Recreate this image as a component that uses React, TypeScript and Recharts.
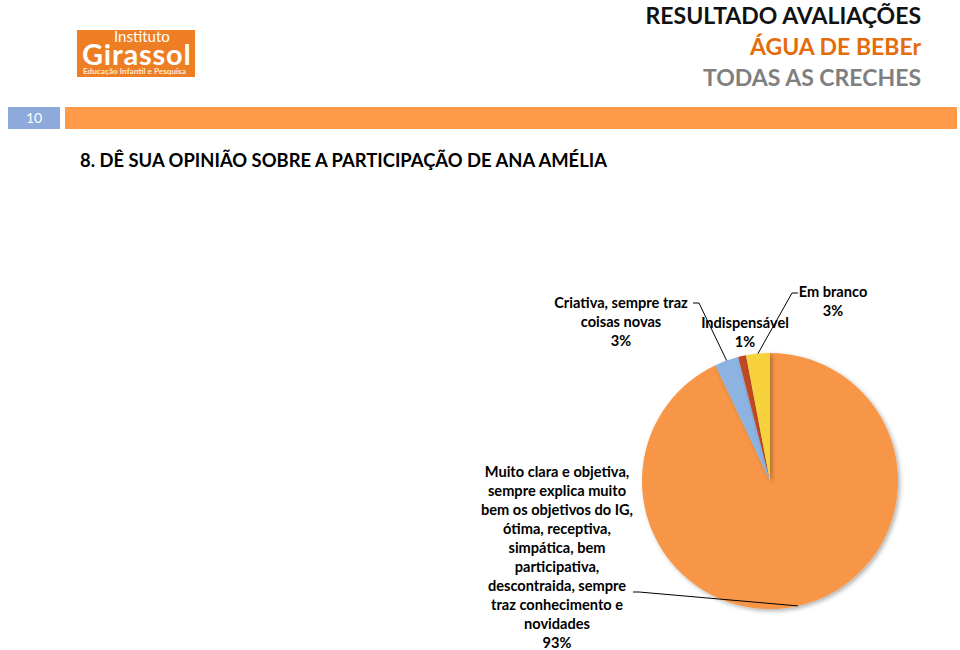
import React from "react";
import { Cell, Pie, PieChart } from "recharts";

const categories = [
  "Muito clara e objetiva, sempre explica muito bem os objetivos do IG, ótima, receptiva, simpática, bem participativa, descontraida, sempre traz conhecimento e novidades",
  "Criativa, sempre traz coisas novas",
  "Indispensável",
  "Em branco",
];
const percentages = [93, 3, 1, 3];
const labelLines = [
  [
    "Muito clara e objetiva,",
    "sempre explica muito",
    "bem os objetivos do IG,",
    "ótima, receptiva,",
    "simpática, bem",
    "participativa,",
    "descontraida, sempre",
    "traz conhecimento e",
    "novidades",
  ],
  ["Criativa, sempre traz", "coisas novas"],
  ["Indispensável"],
  ["Em branco"],
];
const sliceColors = ["#F79646", "#8DB3E2", "#BF4A20", "#F8D23C"];

const data = categories.map((name, i) => ({ name, value: percentages[i] }));

// where each label block sits, and the elbow of its leader line
const labelLayout = [
  { x: 557, y: 471, elbow: [[639, 592], [633, 592]] },
  { x: 621, y: 302, elbow: [[699, 303], [693, 303]] },
  { x: 745, y: 322, elbow: null },
  { x: 833, y: 291, elbow: [[792, 293], [798, 293]] },
];

const FONT = "Lato, 'Open Sans', sans-serif";

function renderLabel(props: any) {
  const { cx, cy, midAngle, outerRadius, index } = props;
  const lay = labelLayout[index];
  const rad = (Math.PI / 180) * midAngle;
  const ox = cx + outerRadius * Math.cos(rad);
  const oy = cy - outerRadius * Math.sin(rad);
  const lines = [...labelLines[index], `${percentages[index]}%`];
  return (
    <g key={`lbl-${index}`}>
      {lay.elbow && (
        <polyline
          points={[[ox, oy], ...lay.elbow].map((p) => p.join(",")).join(" ")}
          fill="none"
          stroke="#000"
          strokeWidth={1}
        />
      )}
      {lines.map((t, i) => (
        <text
          key={i}
          x={lay.x}
          y={lay.y + i * 19.1}
          textAnchor="middle"
          dominantBaseline="central"
          fontFamily={FONT}
          fontWeight={700}
          fontSize={14.6}
          fill="#000"
        >
          {t}
        </text>
      ))}
    </g>
  );
}

export default function App() {
  return (
    <div
      style={{
        position: "absolute",
        left: 0,
        top: 0,
        width: 960,
        height: 650,
        background: "#fff",
        overflow: "hidden",
        fontFamily: FONT,
      }}
    >
      {/* logo */}
      <div
        style={{
          position: "absolute",
          left: 77,
          top: 30,
          width: 118,
          height: 47,
          background: "#EE7E24",
          color: "#fff",
        }}
      >
        <div style={{ position: "absolute", left: 37, top: 0, fontSize: 15, lineHeight: "12px" }}>
          Instituto
        </div>
        <div
          style={{
            position: "absolute",
            left: 5,
            top: 14,
            fontSize: 29,
            fontWeight: 700,
            lineHeight: "20px",
            letterSpacing: 0.8,
          }}
        >
          Girassol
        </div>
        <div
          style={{
            position: "absolute",
            left: 6,
            top: 37,
            fontSize: 8.2,
            fontWeight: 700,
            lineHeight: "8px",
            color: "#FFE9D2",
            whiteSpace: "nowrap",
          }}
        >
          Educação Infantil e Pesquisa
        </div>
      </div>

      {/* header titles */}
      <div
        style={{
          position: "absolute",
          right: 39,
          top: 0,
          textAlign: "right",
          fontWeight: 700,
          whiteSpace: "nowrap",
        }}
      >
        <div style={{ fontSize: 23, lineHeight: "30px", color: "#111" }}>RESULTADO AVALIAÇÕES</div>
        <div style={{ fontSize: 23, lineHeight: "32px", color: "#E46C0A" }}>ÁGUA DE BEBEr</div>
        <div style={{ fontSize: 23, lineHeight: "30px", color: "#7F7F7F" }}>TODAS AS CRECHES</div>
      </div>

      {/* page band */}
      <div
        style={{
          position: "absolute",
          left: 8,
          top: 107,
          width: 52,
          height: 22,
          background: "#8EAADB",
          color: "#fff",
          fontSize: 14,
          lineHeight: "22px",
          textAlign: "center",
        }}
      >
        10
      </div>
      <div
        style={{
          position: "absolute",
          left: 65,
          top: 107,
          width: 892,
          height: 22,
          background: "#FF9A48",
        }}
      />

      <div
        style={{
          position: "absolute",
          left: 80,
          top: 147,
          fontSize: 18.4,
          fontWeight: 700,
          color: "#000",
          whiteSpace: "nowrap",
          lineHeight: "26px",
        }}
      >
        8. DÊ SUA OPINIÃO SOBRE A PARTICIPAÇÃO DE ANA AMÉLIA
      </div>

      <div style={{ position: "absolute", left: 0, top: 0 }}>
        <PieChart width={960} height={650} margin={{ top: 0, right: 0, bottom: 0, left: 0 }}>
          <defs>
            <filter id="pieShadow" x="-10%" y="-10%" width="130%" height="130%">
              <feDropShadow dx="2" dy="2" stdDeviation="2" floodColor="#000" floodOpacity="0.3" />
            </filter>
          </defs>
          <Pie
            data={data}
            dataKey="value"
            nameKey="name"
            cx={770}
            cy={481}
            outerRadius={128}
            startAngle={90}
            endAngle={-270}
            stroke="none"
            label={renderLabel}
            labelLine={false}
            isAnimationActive={false}
            style={{ filter: "url(#pieShadow)" }}
          >
            {data.map((d, i) => (
              <Cell key={d.name} fill={sliceColors[i]} />
            ))}
          </Pie>
        </PieChart>
      </div>
    </div>
  );
}
